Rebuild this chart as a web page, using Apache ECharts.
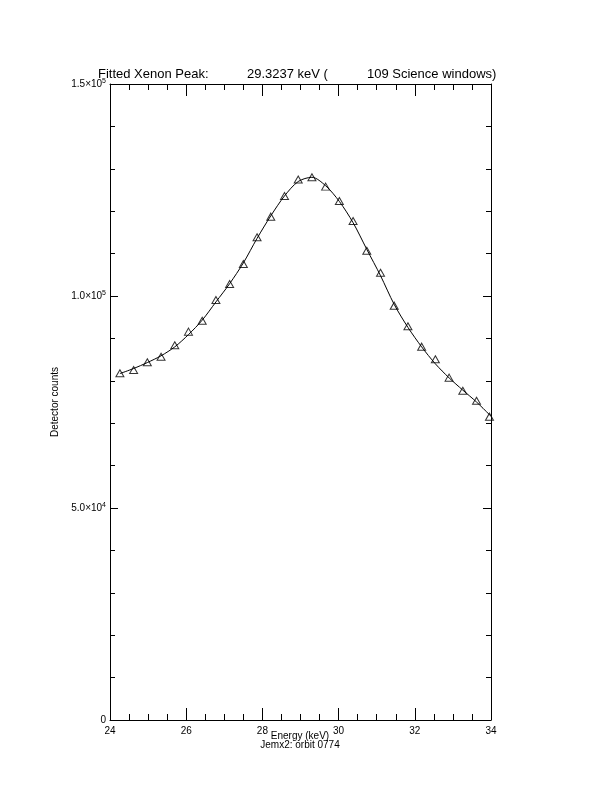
<!DOCTYPE html>
<html>
<head>
<meta charset="utf-8">
<script src="https://cdn.jsdelivr.net/npm/echarts@6/dist/echarts.min.js"></script>
<style>
html,body{margin:0;padding:0;background:#fff;}
#chart{width:612px;height:792px;}
</style>
</head>
<body>
<div id="chart"></div>
<script>
// Measured data points (triangles)
const energy = [24.26, 24.62, 24.98, 25.34, 25.70, 26.06, 26.42, 26.78, 27.14, 27.50,
                27.86, 28.22, 28.58, 28.94, 29.30, 29.66, 30.02, 30.38, 30.74, 31.10,
                31.46, 31.82, 32.18, 32.54, 32.90, 33.26, 33.62, 33.96];
const counts = [81770, 82550, 84360, 85690, 88370, 91590, 94180, 99060, 102830, 107550,
                113840, 118710, 123590, 127480, 128000, 125790, 122410, 117690, 110690, 105500,
                97720, 92850, 88050, 85070, 80740, 77670, 75310, 71540];
// Fitted curve
const fitEnergy = [24.26, 24.62, 24.98, 25.34, 25.70, 26.06, 26.42, 26.78, 27.14, 27.50,
                   27.86, 28.22, 28.58, 28.94, 29.30, 29.66, 30.02, 30.38, 30.74, 31.10,
                   31.46, 31.82, 32.18, 32.54, 32.90, 33.26, 33.62, 33.96, 34.00];
const fitCounts = [81700, 82900, 84300, 85900, 88000, 90900, 94300, 98600, 102900, 107800,
                   113600, 118900, 123600, 127000, 128000, 126000, 122300, 117300, 111000, 104800,
                   98000, 92600, 88000, 84000, 80700, 77800, 75000, 72000, 71600];
// Tick labels
const yTickValues = [0, 50000, 100000, 150000];
const yTickLabels = ['0', '5.0×10{s|4}', '1.0×10{s|5}', '1.5×10{s|5}'];
const xTickValues = [24, 26, 28, 30, 32, 34];
const xTickLabels = ['24', '26', '28', '30', '32', '34'];
const titleParts = ['Fitted Xenon Peak:', '29.3237 keV (', '109 Science windows)'];
const xName = 'Energy (keV)';
const xSubName = 'Jemx2: orbit 0774';
const yName = 'Detector counts';

const FONT = 'Liberation Sans';
const chart = echarts.init(document.getElementById('chart'), null, {renderer: 'canvas'});

const axisCommon = {
  axisLine: {show: true, onZero: false, lineStyle: {color: '#000', width: 1}},
  splitLine: {show: false},
  axisTick: {show: true, inside: true, lineStyle: {color: '#000', width: 1}},
  minorTick: {show: true, lineStyle: {color: '#000', width: 1}},
};

const pts = energy.map((e, i) => [e, counts[i]]);
const fit = fitEnergy.map((e, i) => [e, fitCounts[i]]);

chart.setOption({
  animation: false,
  backgroundColor: '#fff',
  grid: {left: 110, right: 121, top: 84, bottom: 72, containLabel: false},
  graphic: [
    {type: 'text', left: 98, top: 68, style: {text: titleParts[0], font: '13px "' + FONT + '"', fill: '#000'}},
    {type: 'text', left: 247, top: 68, style: {text: titleParts[1], font: '13px "' + FONT + '"', fill: '#000'}},
    {type: 'text', left: 367, top: 68, style: {text: titleParts[2], font: '13px "' + FONT + '"', fill: '#000'}},
    {type: 'text', x: 300, y: 731, style: {text: xName, font: '10px "' + FONT + '"', fill: '#000', align: 'center', verticalAlign: 'top'}},
    {type: 'text', x: 300, y: 740, style: {text: xSubName, font: '10px "' + FONT + '"', fill: '#000', align: 'center', verticalAlign: 'top'}}
  ],
  xAxis: [
    Object.assign({}, axisCommon, {
      type: 'value', position: 'bottom', min: 24, max: 34, interval: 2,
      axisTick: Object.assign({}, axisCommon.axisTick, {length: 12}),
      minorTick: Object.assign({}, axisCommon.minorTick, {splitNumber: 4, length: 6}),
      axisLabel: {
        color: '#000', fontFamily: FONT, fontSize: 10, margin: 6,
        formatter: v => { const i = xTickValues.indexOf(v); return i >= 0 ? xTickLabels[i] : ''; }
      }
    }),
    Object.assign({}, axisCommon, {
      type: 'value', position: 'top', min: 24, max: 34, interval: 2,
      axisTick: Object.assign({}, axisCommon.axisTick, {length: 12}),
      minorTick: Object.assign({}, axisCommon.minorTick, {splitNumber: 4, length: 6}),
      axisLabel: {show: false}
    })
  ],
  yAxis: [
    Object.assign({}, axisCommon, {
      type: 'value', position: 'left', min: 0, max: 150000, interval: 50000,
      axisTick: Object.assign({}, axisCommon.axisTick, {length: 8}),
      minorTick: Object.assign({}, axisCommon.minorTick, {splitNumber: 5, length: 5}),
      axisLabel: {
        color: '#000', fontFamily: FONT, fontSize: 10, margin: 4,
        formatter: v => { const i = yTickValues.indexOf(v); return i >= 0 ? yTickLabels[i] : ''; },
        rich: {s: {fontSize: 7, fontFamily: FONT, color: '#000', verticalAlign: 'top', padding: [0, 0, 6, 0]}}
      },
      name: yName, nameLocation: 'middle', nameGap: 41, nameRotate: 90,
      nameTextStyle: {color: '#000', fontFamily: FONT, fontSize: 10}
    }),
    Object.assign({}, axisCommon, {
      type: 'value', position: 'right', min: 0, max: 150000, interval: 50000,
      axisTick: Object.assign({}, axisCommon.axisTick, {length: 8}),
      minorTick: Object.assign({}, axisCommon.minorTick, {splitNumber: 5, length: 5}),
      axisLabel: {show: false}
    })
  ],
  series: [
    {
      type: 'line', xAxisIndex: 0, yAxisIndex: 0, data: fit, smooth: 0.3,
      showSymbol: false, symbol: 'none', lineStyle: {color: '#000', width: 1}, z: 2
    },
    {
      type: 'scatter', xAxisIndex: 0, yAxisIndex: 0, data: pts,
      symbol: 'triangle', symbolSize: [8, 7],
      itemStyle: {color: 'rgba(0,0,0,0)', borderColor: '#000', borderWidth: 1}, z: 3
    }
  ]
});
</script>
</body>
</html>
